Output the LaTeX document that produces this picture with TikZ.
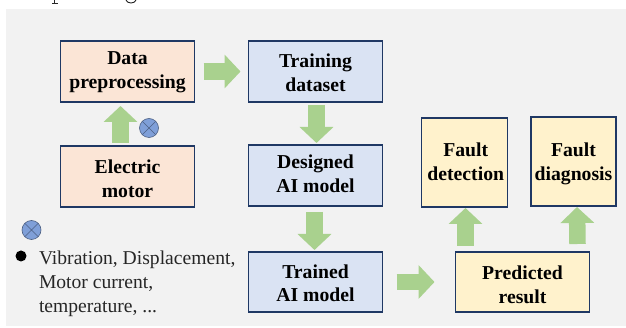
\documentclass[tikz,border=0pt]{standalone}
\usepackage{fontspec}
\setmainfont{Liberation Serif}
\usetikzlibrary{arrows.meta,calc}
\newcommand{\twolines}[3]{\rule{0pt}{\dimexpr16pt+#1pt\relax}#2\\#3\rule[\dimexpr-16pt+#1pt\relax]{0pt}{\dimexpr16pt-#1pt\relax}}
\begin{document}
\begin{tikzpicture}[x=1pt,y=-1pt,
  every node/.style={inner sep=0pt,outer sep=0pt},
  flow/.style={draw=boxline,line width=1.3pt,font=\fontsize{19.7}{24}\selectfont\bfseries,align=center,text=black},
  peach/.style={flow,fill=peachfill},
  bluebox/.style={flow,fill=bluefill},
  yellowbox/.style={flow,fill=yellowfill},
  blockarrow/.style={draw=arrowgreen,line width=16.5pt,-{Triangle[length=16pt,width=33pt,fill=arrowgreen]}},
  sensor/.style={circle,draw=boxline!80,line width=0.6pt,fill=sensorblue,minimum size=19pt},
]
\definecolor{boxline}{HTML}{1F3864}
\definecolor{peachfill}{HTML}{FBE5D6}
\definecolor{bluefill}{HTML}{DAE3F3}
\definecolor{yellowfill}{HTML}{FFF2CC}
\definecolor{arrowgreen}{HTML}{A9D18E}
\definecolor{sensorblue}{HTML}{7F9FD8}
\definecolor{panel}{HTML}{F2F2F2}
\useasboundingbox (0,0) rectangle (626,328);
\fill[panel] (6,9) rectangle (626,326);
% descender fragments of the cut-off line above the panel
\draw[black!85,line width=1pt] (54.5,0) -- (54.5,3) (52,3.3) -- (57.5,3.3);
\draw[black!85,line width=0.9pt] (126,0) .. controls (127,4) and (135,4) .. (136,0);
\node[peach,minimum width=134pt,minimum height=61pt] (prep) at (127.5,71.5) {\twolines{5}{Data}{preprocessing}};
\node[peach,minimum width=134pt,minimum height=61pt] (motor) at (127.5,176.5) {\twolines{9}{Electric}{motor}};
\node[bluebox,minimum width=134pt,minimum height=61pt] (train) at (315.5,71.5) {\twolines{8.5}{Training}{dataset}};
\node[bluebox,minimum width=134pt,minimum height=61pt] (design) at (315.5,175.5) {\twolines{5.5}{Designed}{AI model}};
\node[bluebox,minimum width=134pt,minimum height=60pt] (trained) at (315.5,282) {\twolines{8}{Trained}{AI model}};
\node[yellowbox,minimum width=86pt,minimum height=89pt] (detect) at (464.5,162.5) {\hspace*{2.5pt}\twolines{6.5}{Fault}{\hspace*{2.5pt}detection}};
\node[yellowbox,minimum width=85pt,minimum height=89pt] (diag) at (573.5,161.5) {\twolines{7.5}{Fault}{diagnosis}};
\node[yellowbox,minimum width=134pt,minimum height=60pt] (pred) at (522.5,282) {\twolines{9.5}{Predicted}{result}};
% block arrows
\draw[blockarrow] ($(prep.east)+(9,0)$) -- ($(train.west)+(-8,0)$);
\draw[blockarrow] ($(motor.north)+(-7,-3)$) -- ($(prep.south)+(-7,4)$);
\draw[blockarrow] ($(train.south)+(1,3)$) -- ($(design.north)+(1,-2)$);
\draw[blockarrow] ($(design.south)+(-1,6)$) -- ($(trained.north)+(-1,-2)$);
\draw[blockarrow] ($(trained.east)+(14,0)$) -- ($(pred.west)+(-21,0)$);
\draw[blockarrow] ($(pred.north)+(-57,-6)$) -- ($(detect.south)+(1,1)$);
\draw[blockarrow] ($(pred.north)+(55,-8)$) -- ($(diag.south)+(3.5,1)$);
% sensor symbols
\node[sensor] (s1) at (149,128) {};
\draw[boxline!80,line width=0.6pt] (s1.north west) -- (s1.south east) (s1.north east) -- (s1.south west);
\node[sensor] (s2) at (31.5,230) {};
\draw[boxline!80,line width=0.6pt] (s2.north west) -- (s2.south east) (s2.north east) -- (s2.south west);
% legend
\node[circle,fill=black,minimum size=11pt] (dot) at (21,256) {};
\node[anchor=north west,align=left,font=\fontsize{19.6}{24}\selectfont,text=black!85] (legend) at (39,251) {Vibration, Displacement,\\Motor current,\\temperature, ...};
\end{tikzpicture}
\end{document}
